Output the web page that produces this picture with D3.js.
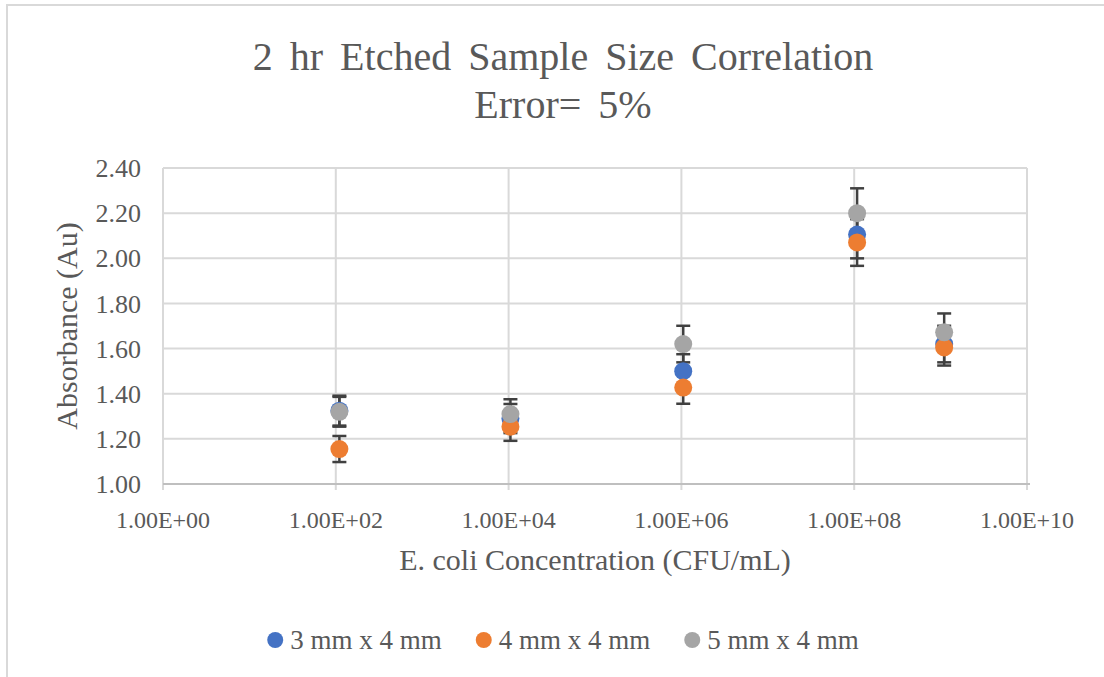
<!DOCTYPE html>
<html lang="en">
<head>
    <meta charset="UTF-8">
    <title>2 hr Etched Sample Size Correlation</title>
    <script src="https://d3js.org/d3.v7.min.js"></script>
    <style>
        body {
            margin: 0;
            background: #fff;
        }
        svg text {
            font-family: "Liberation Serif", "Times New Roman", serif;
            fill: #595959;
        }
        .grid line {
            stroke: #d9d9d9;
            stroke-width: 2;
        }
        .err {
            stroke: #404040;
            stroke-width: 2.5;
        }
    </style>
</head>
<body>
    <svg id="chart" width="1104" height="677"></svg>

    <script>
        // Data
        const concentrations = [1.1e2, 1.05e4, 1.05e6, 1.08e8, 1.1e9];
        const size3x4 = [1.325, 1.29, 1.50, 2.105, 1.62];
        const size4x4 = [1.155, 1.254, 1.427, 2.07, 1.605];
        const size5x4 = [1.32, 1.31, 1.62, 2.20, 1.672];
        const seriesNames = ["3 mm x 4 mm", "4 mm x 4 mm", "5 mm x 4 mm"];
        const seriesColors = ["#4472C4", "#ED7D31", "#A5A5A5"];
        const xTicks = [1e0, 1e2, 1e4, 1e6, 1e8, 1e10];
        const yTicks = [1.0, 1.2, 1.4, 1.6, 1.8, 2.0, 2.2, 2.4];
        const errorPct = 0.05;

        const width = 1104, height = 677;
        const plot = { left: 163, right: 1027, top: 168, bottom: 484 };
        const chartCenter = 563;

        const svg = d3.select("#chart");

        // chart border (right/bottom fall outside the picture)
        svg.append("rect")
            .attr("x", 7).attr("y", 5)
            .attr("width", 1120).attr("height", 700)
            .attr("fill", "none")
            .attr("stroke", "#d9d9d9")
            .attr("stroke-width", 2);

        const x = d3.scaleLog().domain([1, 1e10]).range([plot.left, plot.right]);
        const y = d3.scaleLinear().domain([1, 2.4]).range([plot.bottom, plot.top]);

        function sci(d) {
            const e = Math.round(Math.log10(d));
            return "1.00E+" + String(e).padStart(2, "0");
        }

        // gridlines
        const grid = svg.append("g").attr("class", "grid");
        grid.selectAll(".h").data(yTicks).enter().append("line")
            .attr("x1", plot.left).attr("x2", plot.right)
            .attr("y1", d => y(d)).attr("y2", d => y(d));
        grid.selectAll(".v").data(xTicks).enter().append("line")
            .attr("x1", d => x(d)).attr("x2", d => x(d))
            .attr("y1", plot.top).attr("y2", plot.bottom + 6);

        // bottom axis line
        svg.append("line")
            .attr("x1", plot.left).attr("x2", plot.right + 3)
            .attr("y1", plot.bottom).attr("y2", plot.bottom)
            .attr("stroke", "#bfbfbf").attr("stroke-width", 2);

        // tick labels
        svg.append("g").selectAll("text").data(yTicks).enter().append("text")
            .attr("x", 141).attr("y", d => y(d))
            .attr("dy", "0.35em")
            .attr("text-anchor", "end")
            .style("font-size", "26px")
            .text(d => d.toFixed(2));

        svg.append("g").selectAll("text").data(xTicks).enter().append("text")
            .attr("x", d => x(d)).attr("y", 520)
            .attr("dy", "0.35em")
            .attr("text-anchor", "middle")
            .style("font-size", "24px")
            .text(sci);

        // axis titles
        svg.append("text")
            .attr("x", (plot.left + plot.right) / 2).attr("y", 559)
            .attr("dy", "0.35em")
            .attr("text-anchor", "middle")
            .style("font-size", "30px")
            .text("E. coli Concentration (CFU/mL)");

        svg.append("text")
            .attr("transform", "translate(66," + ((plot.top + plot.bottom) / 2) + ") rotate(-90)")
            .attr("dy", "0.35em")
            .attr("text-anchor", "middle")
            .style("font-size", "30px")
            .text("Absorbance (Au)");

        // title
        const title = svg.append("text")
            .attr("x", chartCenter).attr("text-anchor", "middle")
            .style("font-size", "40px")
            .style("word-spacing", "7px");
        title.append("tspan").attr("x", chartCenter).attr("y", 70).text("2 hr Etched Sample Size Correlation");
        title.append("tspan").attr("x", chartCenter).attr("y", 118).text("Error= 5%");

        // series
        const series = [size3x4, size4x4, size5x4].map((vals, i) => ({
            name: seriesNames[i],
            color: seriesColors[i],
            points: vals.map((v, j) => ({ x: concentrations[j], y: v }))
        }));

        // error bars
        const bars = svg.append("g");
        series.forEach(s => {
            s.points.forEach(p => {
                const lo = y(p.y * (1 - errorPct)), hi = y(p.y * (1 + errorPct));
                const cx = x(p.x);
                bars.append("line").attr("class", "err")
                    .attr("x1", cx).attr("x2", cx).attr("y1", lo).attr("y2", hi);
                bars.append("line").attr("class", "err")
                    .attr("x1", cx - 7).attr("x2", cx + 7).attr("y1", lo).attr("y2", lo);
                bars.append("line").attr("class", "err")
                    .attr("x1", cx - 7).attr("x2", cx + 7).attr("y1", hi).attr("y2", hi);
            });
        });

        // markers
        series.forEach(s => {
            svg.append("g").selectAll("circle").data(s.points).enter().append("circle")
                .attr("cx", d => x(d.x))
                .attr("cy", d => y(d.y))
                .attr("r", 9)
                .attr("fill", s.color);
        });

        // legend
        const legend = svg.append("g");
        let cursor = 0;
        series.forEach((s, i) => {
            const item = legend.append("g").attr("transform", "translate(" + cursor + ",0)");
            item.append("circle").attr("cx", 8).attr("cy", 0).attr("r", 8).attr("fill", s.color);
            const t = item.append("text")
                .attr("x", 23).attr("dy", "0.35em")
                .style("font-size", "27px")
                .text(s.name);
            cursor += 23 + t.node().getComputedTextLength() + 34;
        });
        const legendWidth = cursor - 34;
        legend.attr("transform", "translate(" + (chartCenter - legendWidth / 2) + ",640)");
    </script>
</body>
</html>
